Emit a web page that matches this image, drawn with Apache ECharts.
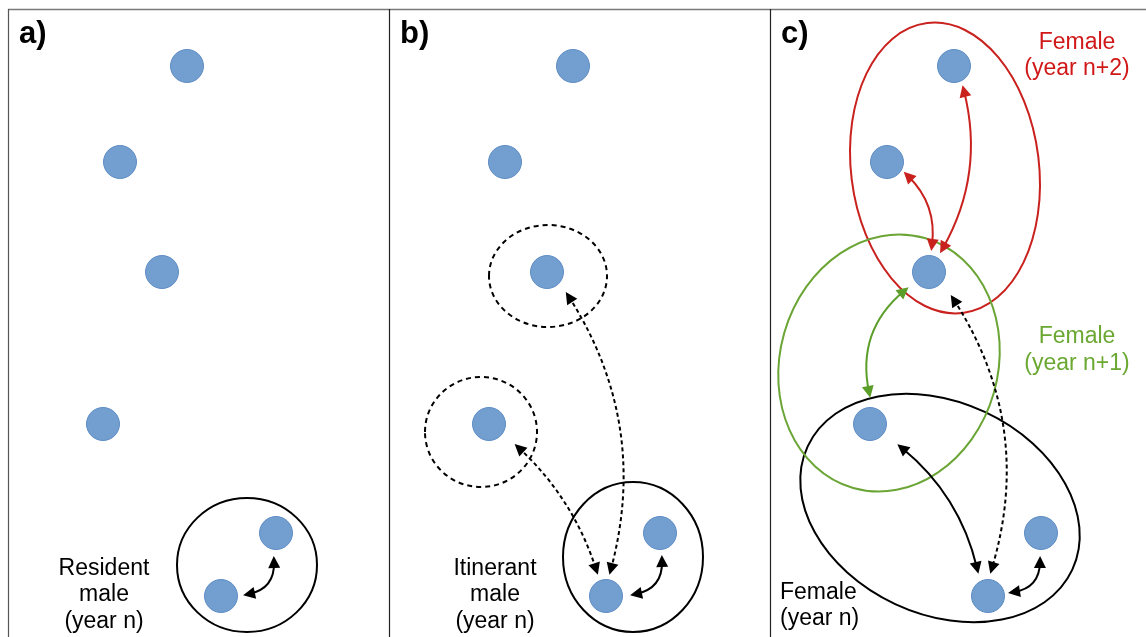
<!DOCTYPE html>
<html><head><meta charset="utf-8">
<script src="https://cdn.jsdelivr.net/npm/echarts@6/dist/echarts.min.js"></script>
<style>html,body{margin:0;padding:0;background:#fff}#c{width:1146px;height:637px}</style>
</head><body><div id="c"></div>
<script>
// Sites (nest locations) in diagram units
const sites = [
  [187,66],[120,162],[162,272],[103,424],[276,533],[221,596],
  [573,66],[505,162],[547,272],[489,424],[660,533],[606,596],
  [954,66],[887,162],[929,272],[870,424],[1041,533],[988,596]
];
// Home ranges: [cx, cy, rx, ry, tiltDeg]
const rangesSolidBlack = [[247,565,70,67,0],[633,557,70,75,0],[940,508,146,106,-25]];
const rangesDashedBlack = [[548,276,59,51,0],[481,432,56,55,0]];
const rangesRed = [[945,168,94,146,7]];
const rangesGreen = [[889,363,109,130,-16]];
// Movements: [x1, y1, x2, y2]
const movesSolidBlack = [[249,594,274,562],[636,594,662,561],[1014,592,1040,562],[902,448,977,568]];
const bendSolidBlack = [-0.42,-0.42,-0.42,0.17];
const movesDashedBlack = [[519,448,596,569],[569,297,611,569],[954,300,992,568]];
const bendDashedBlack = [0.13,0.22,0.23];
const movesRed = [[908,176,932,245],[964,91,943,248]];
const bendRed = [0.25,0.2];
const movesGreen = [[904,291,869,392]];
const bendGreen = [-0.3];
// Text
const panelTags = ['a)','b)','c)'];
const panelTagPos = [[19,34],[400,34],[781,34]];
const blackLabels = ['Resident\nmale\n(year n)','Itinerant\nmale\n(year n)'];
const blackLabelPos = [[104,595],[495,595]];
const femaleN = 'Female\n(year n)';
const femaleNPos = [780,606];
const femaleN2 = 'Female\n(year n+2)';
const femaleN2Pos = [1077,56];
const femaleN1 = 'Female\n(year n+1)';
const femaleN1Pos = [1077,350];

const chart = echarts.init(document.getElementById('c'), null, {renderer:'canvas'});

function ellipseSeries(list, color, dash) {
  return {
    type:'custom', coordinateSystem:'cartesian2d', silent:true, z:2,
    data: list,
    renderItem(params, api){
      const c = api.coord([api.value(0), api.value(1)]);
      const s = api.size([api.value(2), api.value(3)]);
      return {type:'ellipse', x:c[0], y:c[1], rotation: api.value(4)*Math.PI/180,
        shape:{cx:0,cy:0,rx:s[0],ry:s[1]},
        style:{fill:null, stroke:color, lineWidth:2, lineDash: dash || null}};
    }
  };
}
function arrowSeries(list, bends, color, headBorder, dash) {
  return {
    type:'lines', coordinateSystem:'cartesian2d', silent:true, z:3,
    symbol:['triangle','triangle'], symbolSize:12,
    lineStyle:{color:color, width:2, type: dash || 'solid', opacity:1},
    itemStyle:{color:color, borderColor:headBorder, borderWidth:headBorder?0.8:0},
    data: list.map((m,i)=>({coords:[[m[0],m[1]],[m[2],m[3]]], lineStyle:{curveness:bends[i]}}))
  };
}
function textSeries(items, color, font, align, lh) {
  return {
    type:'custom', coordinateSystem:'cartesian2d', silent:true, z:5,
    data: items.map(it=>[it[1][0], it[1][1]]),
    renderItem(params, api){
      const c = api.coord([api.value(0), api.value(1)]);
      return {type:'text', x:c[0], y:c[1],
        style:{text: items[params.dataIndex][0], fill:color, font:font,
               align:align, verticalAlign:'middle', lineHeight:lh}};
    }
  };
}

const F = '23px "Liberation Sans", Arial, sans-serif';
chart.setOption({
  animation:false,
  grid:{left:0, top:0, width:1146, height:637},
  xAxis:{type:'value', min:0, max:1146, show:false},
  yAxis:{type:'value', min:0, max:637, inverse:true, show:false},
  graphic:[
    {type:'line', shape:{x1:8, y1:9.5, x2:1146, y2:9.5}, style:{stroke:'#7a7a7a', lineWidth:1.5}, z:10},
    {type:'line', shape:{x1:8.5, y1:9, x2:8.5, y2:637}, style:{stroke:'#555', lineWidth:1.2}, z:10},
    {type:'line', shape:{x1:389.5, y1:9, x2:389.5, y2:637}, style:{stroke:'#222', lineWidth:1.2}, z:10},
    {type:'line', shape:{x1:770.5, y1:9, x2:770.5, y2:637}, style:{stroke:'#222', lineWidth:1.2}, z:10}
  ],
  series:[
    ellipseSeries(rangesSolidBlack, '#000'),
    ellipseSeries(rangesDashedBlack, '#000', [5,4]),
    ellipseSeries(rangesRed, '#c9211e'),
    ellipseSeries(rangesGreen, '#6aa535'),
    arrowSeries(movesSolidBlack, bendSolidBlack, '#000'),
    arrowSeries(movesDashedBlack, bendDashedBlack, '#000', null, [4,3]),
    arrowSeries(movesRed, bendRed, '#c9211e', '#400'),
    arrowSeries(movesGreen, bendGreen, '#5c9e2a', '#230'),
    {
      type:'scatter', silent:true, z:4, symbolSize:33,
      itemStyle:{color:'#729fcf', borderColor:'#5f8dc4', borderWidth:1, opacity:1},
      data: sites
    },
    textSeries(panelTags.map((t,i)=>[t,panelTagPos[i]]), '#000', 'bold 31px "Liberation Sans", Arial, sans-serif', 'left', 34),
    textSeries(blackLabels.map((t,i)=>[t,blackLabelPos[i]]), '#000', F, 'center', 26.5),
    textSeries([[femaleN, femaleNPos]], '#000', F, 'left', 26),
    textSeries([[femaleN2, femaleN2Pos]], '#d01818', F, 'center', 26),
    textSeries([[femaleN1, femaleN1Pos]], '#6aa832', F, 'center', 26.5)
  ]
});
</script>
</body></html>
